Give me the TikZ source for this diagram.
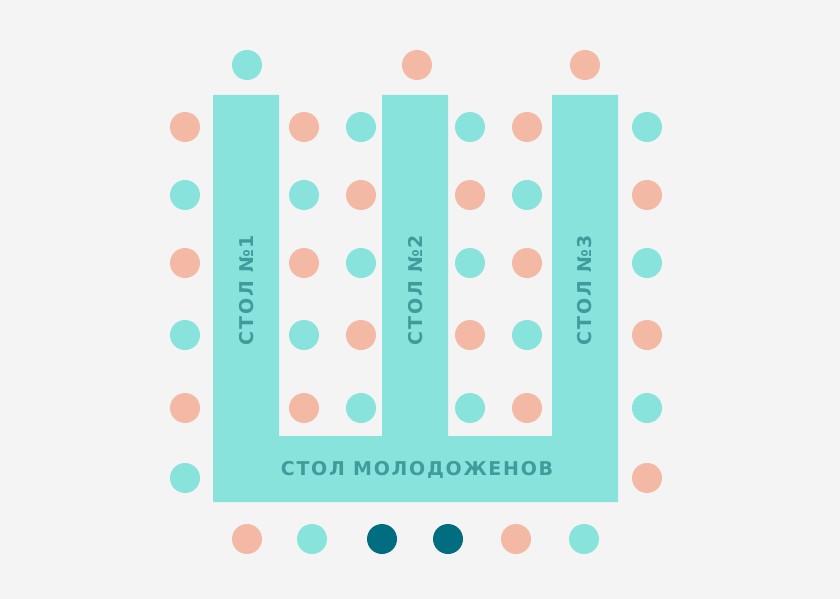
\documentclass[tikz,border=0pt]{standalone}
\usepackage{fontspec}
\newfontfamily\tablefont{DejaVu Sans}[LetterSpace=9]
\definecolor{bgray}{HTML}{F4F4F4}
\definecolor{mint}{HTML}{89E3DD}
\definecolor{peach}{HTML}{F3B9A5}
\definecolor{deepteal}{HTML}{006E80}
\definecolor{labelteal}{HTML}{3F9C9C}
\tikzset{
  seat/.style={fill=#1},
  tablelabel/.style={text=labelteal, font=\tablefont\bfseries\fontsize{19}{21}\selectfont, inner sep=0pt}
}
\begin{document}
\begin{tikzpicture}[x=1pt, y=-1pt]
\fill[bgray](0,0) rectangle (840,599);
\useasboundingbox (0,0) rectangle (840,599);

% tables
\fill[mint](213,95)--(279,95)--(279,436)--(382,436)--(382,95)--(448,95)--(448,436)
  --(552,436)--(552,95)--(618,95)--(618,502)--(213,502)--cycle;
\node[tablelabel, rotate=90] (t1) at (247,290) {СТОЛ №1};
\node[tablelabel, rotate=90] (t2) at (416,290) {СТОЛ №2};
\node[tablelabel, rotate=90] (t3) at (585,290) {СТОЛ №3};
\node[tablelabel] (main) at (417,470) {СТОЛ МОЛОДОЖЕНОВ};

% guests
\foreach \x/\c in {247/mint, 417/peach, 585/peach}
  \fill[seat=\c](\x,65) circle (15);
\foreach \y/\a/\b in {127/peach/mint, 195/mint/peach, 263/peach/mint, 335/mint/peach, 408/peach/mint, 478/mint/peach}
  {\fill[seat=\a](185,\y) circle (15);
   \fill[seat=\b](647,\y) circle (15);}
\foreach \y/\a/\b in {127/peach/mint, 195/mint/peach, 263/peach/mint, 335/mint/peach, 408/peach/mint}
  {\fill[seat=\a](304,\y) circle (15);
   \fill[seat=\b](361,\y) circle (15);
   \fill[seat=\b](470,\y) circle (15);
   \fill[seat=\a](527,\y) circle (15);}
\foreach \x/\c in {247/peach, 312/mint, 382/deepteal, 448/deepteal, 516/peach, 584/mint}
  \fill[seat=\c](\x,539) circle (15);
\end{tikzpicture}
\end{document}
